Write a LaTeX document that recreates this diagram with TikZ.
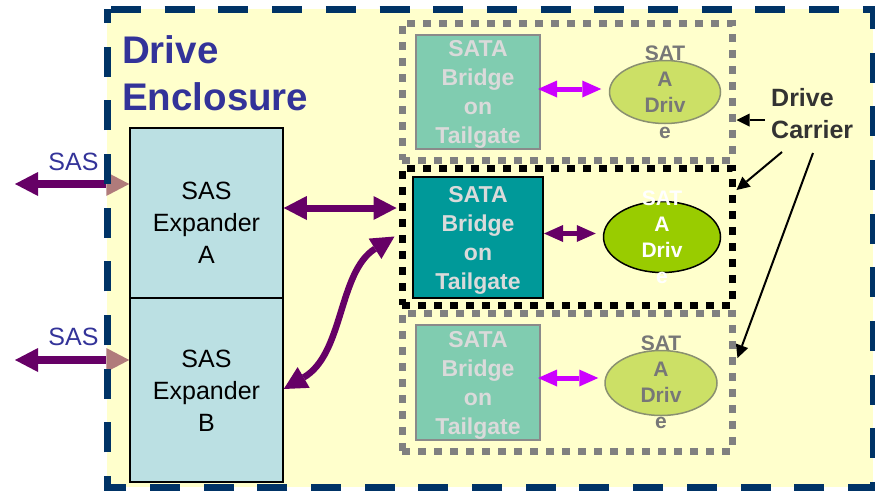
\documentclass[tikz,border=0pt]{standalone}
\usepackage{fontspec}
\setmainfont{Liberation Sans}
\usetikzlibrary{arrows.meta,shapes.geometric}
\definecolor{yel}{HTML}{FFFFCC}
\definecolor{navy}{HTML}{003366}
\definecolor{encl}{HTML}{333399}
\definecolor{expfill}{HTML}{BBE0E3}
\definecolor{purp}{HTML}{660066}
\definecolor{headpink}{HTML}{B07B7B}
\definecolor{magen}{HTML}{CC00FF}
\definecolor{fadebr}{HTML}{80CCB0}
\definecolor{fadebrdr}{HTML}{8A8A8A}
\definecolor{brtxt}{HTML}{DADADA}
\definecolor{tealbr}{HTML}{009999}
\definecolor{drvfade}{HTML}{CCE066}
\definecolor{drvfadeln}{HTML}{8A9070}
\definecolor{drvtxtfade}{HTML}{777777}
\definecolor{drvon}{HTML}{99CC00}
\definecolor{carrgray}{HTML}{808080}
\definecolor{dclabel}{HTML}{333333}
\begin{document}
\begin{tikzpicture}[x=1pt,y=-1pt,
  exp/.style={draw=black,line width=1.5pt,fill=expfill,inner sep=0pt,minimum width=153pt},
  exptxt/.style={font=\fontsize{25}{32}\selectfont,align=center},
  carrier/.style={draw=carrgray,line width=7pt,dash pattern=on 8pt off 8pt,
    inner sep=0pt,minimum width=330pt,minimum height=137pt},
  bridge/.style={rectangle,inner sep=0pt,align=center,text depth=0pt,
    font=\bfseries\fontsize{23}{29}\selectfont,text=brtxt},
  fadebridge/.style={bridge,fill=fadebr,draw=fadebrdr,line width=2pt,
    minimum width=124pt,minimum height=114pt},
  drive/.style={ellipse,inner sep=0pt},
  fadedrive/.style={drive,fill=drvfade,draw=drvfadeln,line width=1.5pt},
  drvtxt/.style={font=\bfseries\fontsize{21}{26}\selectfont,align=center},
  bigarrow/.style={draw=purp,line width=7pt,
    >={Triangle[length=23pt,width=24pt,line width=0pt]},<->},
  smallarrow/.style={line width=5pt,
    >={Triangle[length=19pt,width=17pt,line width=0pt]},<->},
  pointer/.style={draw=black,line width=2pt,
    -{Triangle[length=13pt,width=13pt,line width=0pt]}},
  saslbl/.style={text=encl,font=\fontsize{25}{30}\selectfont,anchor=base,inner sep=0pt}
]
\useasboundingbox (0,0) rectangle (875,491);

% enclosure background
\fill[yel] (107,9) rectangle (873,487);

% external SAS links
\node[saslbl] (sasA) at (73.5,170) {SAS};
\node[saslbl] (sasB) at (73.5,345) {SAS};
\coordinate (inA) at (15,184);
\coordinate (inB) at (15,360);

% expanders
\node[exp,minimum height=170pt] (expA) at (206.5,213) {};
\node[exp,minimum height=184pt] (expB) at (206.5,390) {};
\node[exptxt] at ([yshift=-10pt]expA.center) {SAS\\Expander\\A};
\node[exptxt] at ([yshift=-1pt]expB.center) {SAS\\Expander\\B};

\draw[purp,line width=7.5pt,
  {Triangle[length=23pt,width=24pt,line width=0pt]}-{Triangle[length=23pt,width=24pt,line width=0pt,color=headpink]}]
  (inA) -- (inA -| expA.west);
\draw[purp,line width=7.5pt,
  {Triangle[length=23pt,width=24pt,line width=0pt]}-{Triangle[length=23pt,width=24pt,line width=0pt,color=headpink]}]
  (inB) -- (inB -| expB.west);

% enclosure border
\draw[navy,line width=7pt,dash pattern=on 30pt off 23.7pt,dash phase=49.7pt]
  (107,9) -- (873,9) -- (873,487) -- (107,487) -- cycle;
\node[text=encl,font=\bfseries\fontsize{38.5}{47}\selectfont,align=left,
  anchor=north west,inner sep=0pt] (title) at (122,35) {Drive\\Enclosure};

% drive carriers
\node[carrier] (c1) at (567,91.5) {};
\node[carrier,draw=black] (cm) at (567,236.5) {};
\node[carrier,minimum height=138pt] (c3) at (567,382) {};

% SATA bridges
\node[fadebridge] (br1) at (478,92) {SATA\\Bridge\\on\\Tailgate};
\node[bridge,fill=tealbr,draw=black,line width=2pt,minimum width=130pt,
  minimum height=121pt] (brm) at (478,237.5) {SATA\\Bridge\\on\\Tailgate};
\node[fadebridge,minimum height=115pt] (br3) at (478,382.5) {SATA\\Bridge\\on\\Tailgate};

% SATA drives
\node[fadedrive,minimum width=111pt,minimum height=63pt] (d1) at (665,92) {};
\node[drive,fill=drvon,draw=black,line width=1.5pt,minimum width=117pt,
  minimum height=71pt] (dm) at (662,237) {};
\node[fadedrive,minimum width=112pt,minimum height=65pt] (d3) at (661,383) {};
\node[drvtxt,text=drvtxtfade] at (d1.center) {SAT\\A\\Driv\\e};
\node[drvtxt,text=white] at (dm.center) {SAT\\A\\Driv\\e};
\node[drvtxt,text=drvtxtfade] at ([yshift=0.5pt]d3.center) {SAT\\A\\Driv\\e};

% bridge <-> drive links
\draw[smallarrow,magen,shorten <=-3pt,shorten >=7.5pt]
  ([yshift=3pt]br1.east) -- ([yshift=3pt]br1.east -| d1.west);
\draw[smallarrow,purp,shorten >=7pt]
  ([yshift=4pt]brm.east) -- ([yshift=4pt]brm.east -| dm.west);
\draw[smallarrow,magen,shorten <=-3pt,shorten >=6pt]
  ([yshift=4.5pt]br3.east) -- ([yshift=4.5pt]br3.east -| d3.west);

% expander <-> carrier links
\draw[bigarrow] ([yshift=5pt]expA.east) -- ([yshift=5pt,xshift=-2pt]expA.east -| cm.west);
\draw[bigarrow,line width=6.5pt] ([yshift=1pt]expB.east)
  .. controls (344,354) and (338,272) .. ([xshift=-4pt]cm.west);

% drive carrier callout
\node[text=dclabel,font=\bfseries\fontsize{25}{32}\selectfont,align=left,
  anchor=north west,inner sep=0pt] (dc) at (771,88) {Drive\\Carrier};
\coordinate (p1) at (765,120);
\coordinate (p2) at (782,152);
\coordinate (p3) at (813,153);
\draw[pointer] (p1) -- ([yshift=-28.5pt,xshift=1pt]c1.east);
\draw[pointer] (p2) -- ([yshift=46.5pt,xshift=1pt]cm.east);
\draw[pointer] (p3) -- ([yshift=24pt,xshift=2pt]c3.east);
\end{tikzpicture}
\end{document}
